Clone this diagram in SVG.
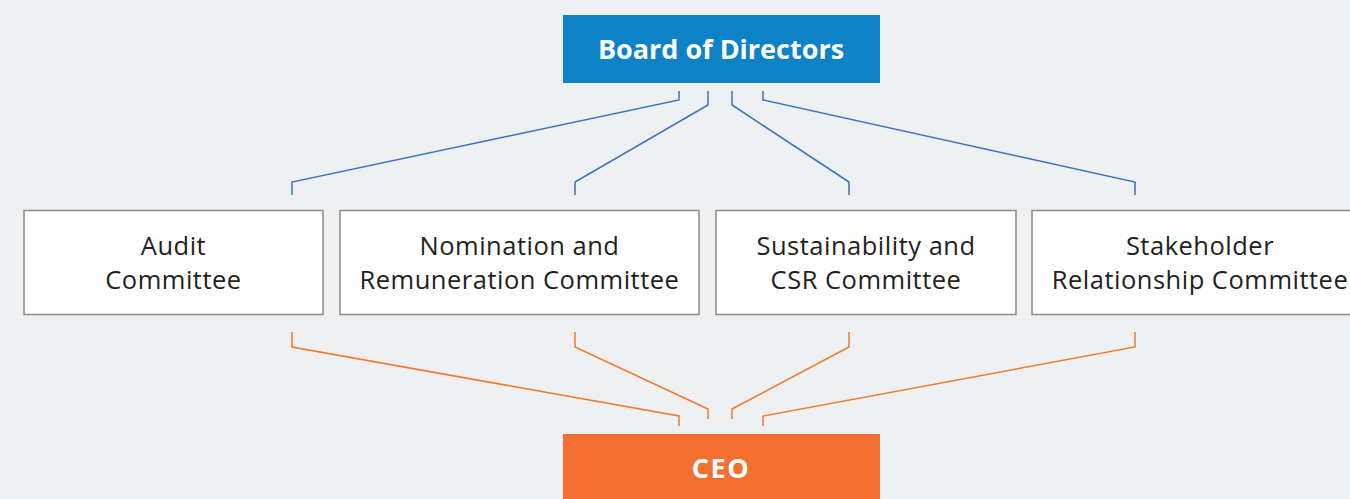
<svg xmlns="http://www.w3.org/2000/svg" width="1350" height="499" viewBox="0 0 1350 499">
<style>
.bg{fill:#eff0f2}
.cbox{fill:#ffffff;stroke:#8a8a8a;stroke-width:1.5}
.ctxt{font-family:"Open Sans","Liberation Sans",sans-serif;font-size:25.5px;letter-spacing:0.5px;fill:#231f20;text-anchor:middle}
.htxt{font-family:"Open Sans","Liberation Sans",sans-serif;font-size:27px;font-weight:bold;fill:#ffffff;text-anchor:middle}
.up{fill:none;stroke:#3a73c4;stroke-width:1.5}
.dn{fill:none;stroke:#ef7a2c;stroke-width:1.5}
</style>
<rect class="bg" x="0" y="0" width="1350" height="499"/>
<g id="connectors">
<polyline class="up" points="679,91 679,100 292,182 292,195"/>
<polyline class="up" points="708,91 708,105 575,182 575,195"/>
<polyline class="up" points="732,91 732,105 849,182 849,195"/>
<polyline class="up" points="763,91 763,100 1135,182 1135,195"/>
<polyline class="dn" points="292,332 292,347 679,416 679,426"/>
<polyline class="dn" points="575,332 575,347 708,409 708,419"/>
<polyline class="dn" points="849,332 849,347 732,409 732,419"/>
<polyline class="dn" points="1135,332 1135,347 763,416 763,426"/>
</g>
<g id="board">
<rect x="563" y="15" width="317" height="68" fill="#0e82c6"/>
<text class="htxt" x="721" y="59">Board of Directors</text>
</g>
<g id="audit">
<rect class="cbox" x="24" y="210.5" width="299" height="104"/>
<text class="ctxt" x="173.5" y="255">Audit</text>
<text class="ctxt" x="173.5" y="289">Committee</text>
</g>
<g id="nomination">
<rect class="cbox" x="340" y="210.5" width="359" height="104"/>
<text class="ctxt" x="519.5" y="255">Nomination and</text>
<text class="ctxt" x="519.5" y="289">Remuneration Committee</text>
</g>
<g id="sustainability">
<rect class="cbox" x="716" y="210.5" width="300" height="104"/>
<text class="ctxt" x="866" y="255">Sustainability and</text>
<text class="ctxt" x="866" y="289">CSR Committee</text>
</g>
<g id="stakeholder">
<rect class="cbox" x="1032" y="210.5" width="336" height="104"/>
<text class="ctxt" x="1200" y="255">Stakeholder</text>
<text class="ctxt" x="1200" y="289">Relationship Committee</text>
</g>
<g id="ceo">
<rect x="563" y="434" width="317" height="65" fill="#f37032"/>
<text class="htxt" x="721" y="478" letter-spacing="1.5">CEO</text>
</g>
</svg>
